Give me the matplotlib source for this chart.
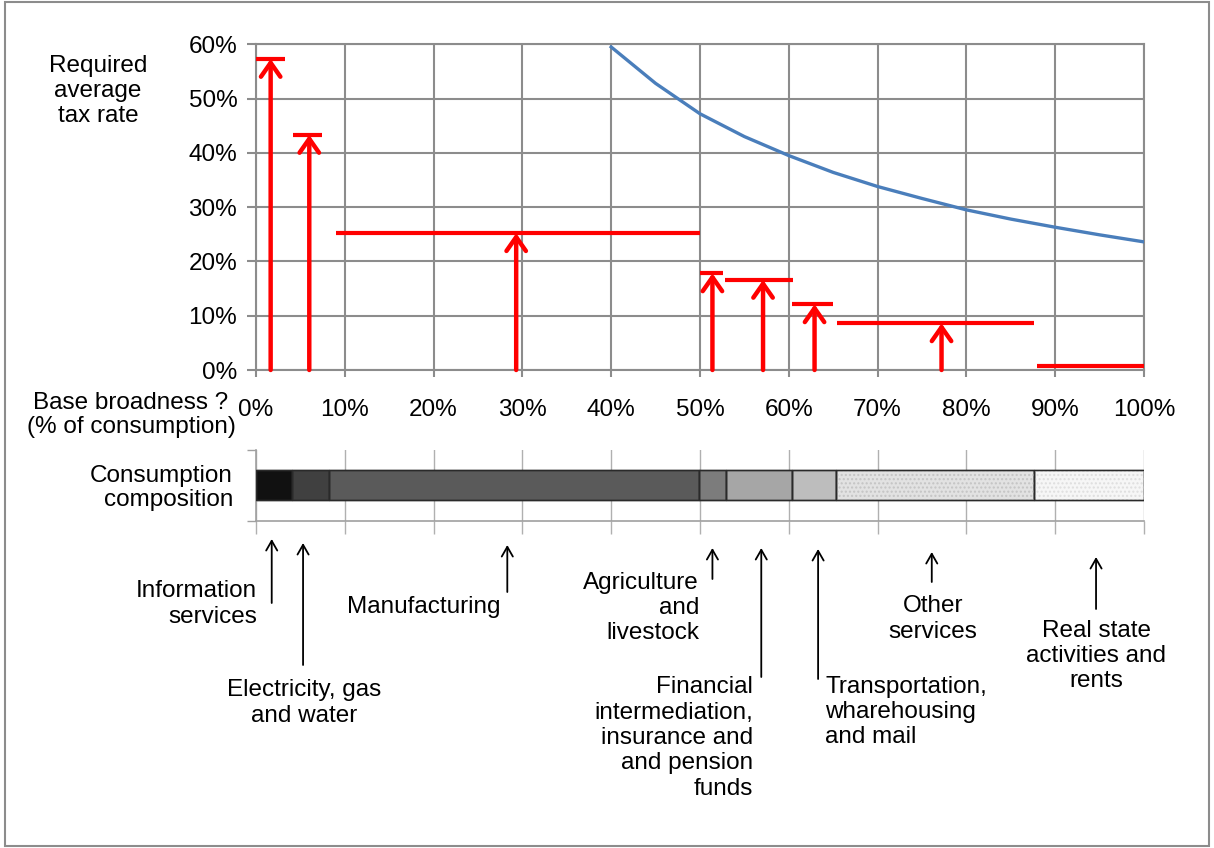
import matplotlib
matplotlib.use('Agg')
import matplotlib.pyplot as plt
import matplotlib.transforms as mtransforms
from matplotlib.patches import Rectangle
from matplotlib.ticker import FuncFormatter

plt.rcParams['font.family'] = ['Liberation Sans', 'DejaVu Sans']
plt.rcParams['font.size'] = 17.5

# sectors, left to right along the consumption base
sectors = ['Information\nservices', 'Electricity, gas\nand water', 'Manufacturing',
           'Agriculture\nand\nlivestock',
           'Financial\nintermediation,\ninsurance and\nand pension\nfunds',
           'Transportation,\nwharehousing\nand mail', 'Other\nservices',
           'Real state\nactivities and\nrents']

# composition of consumption (cumulative %, segment edges)
comp_edges = [0, 4.1, 8.2, 49.9, 52.9, 60.4, 65.3, 87.6, 100]
comp_colors = ['#111111', '#404040', '#5a5a5a', '#7c7c7c', '#a6a6a6', '#bdbdbd', '#e2e2e2', '#f6f6f6']

# required tax rate for each sector (red steps)
step_start = [0.0, 4.2, 9.0, 50.0, 52.8, 60.4, 65.4, 88.0]
step_end = [3.3, 7.4, 50.0, 52.6, 60.5, 65.0, 87.6, 100.0]
step_rate = [57.3, 43.3, 25.2, 17.8, 16.6, 12.1, 8.6, 0.7]
step_arrow_x = [1.65, 6.0, 29.3, 51.4, 57.1, 62.9, 77.2, None]

# required average tax rate vs base broadness (blue curve)
curve_base = [40, 45, 50, 55, 60, 65, 70, 75, 80, 85, 90, 95, 100]
curve_rate = [59.5, 52.8, 47.2, 43.0, 39.5, 36.4, 33.8, 31.6, 29.5, 27.8, 26.3, 24.9, 23.6]

# where the sector labels point on the composition bar
label_x = [1.77, 5.3, 28.3, 51.4, 56.9, 63.3, 76.1, 94.6]

W, H = 1214, 848
fig = plt.figure(figsize=(W / 100, H / 100), dpi=100)

def fx(px):
    return px / W

def fy(py):
    return 1 - py / H

grid_c = '#8c8c8c'
pct = FuncFormatter(lambda v, p: '%d%%' % round(v))
LS = 1.2

# ---- top panel
ax = fig.add_axes([fx(256), fy(370), fx(888), 325.7 / H])
ax.set_xlim(0, 100)
ax.set_ylim(0, 60)
ax.set_xticks(range(0, 101, 10))
ax.set_yticks(range(0, 61, 10))
ax.xaxis.set_major_formatter(pct)
ax.yaxis.set_major_formatter(pct)
ax.grid(True, color=grid_c, lw=1.5)
for s in ax.spines.values():
    s.set_color(grid_c)
    s.set_linewidth(1.5)
ax.tick_params(axis='y', length=6.5, width=1.5, color=grid_c, pad=7)
ax.tick_params(axis='x', length=5, width=1.5, color=grid_c, pad=16)
ax.set_axisbelow(True)

ax.plot(curve_base, curve_rate, color='#4a7ebb', lw=2.4, zorder=3)

for x0, x1, r, xa in zip(step_start, step_end, step_rate, step_arrow_x):
    ax.plot([x0, x1], [r, r], color='#ff0000', lw=3, solid_capstyle='butt', zorder=4)
    if xa is not None:
        ax.annotate('', xy=(xa, r), xytext=(xa, 0),
                    arrowprops=dict(arrowstyle='->,head_length=0.5,head_width=0.35',
                                    color='#ff0000', lw=3.2, shrinkA=0, shrinkB=0,
                                    mutation_scale=20), zorder=4)

# ---- bottom panel: consumption composition
ax2 = fig.add_axes([fx(256), fy(521), fx(888), 71 / H])
ax2.set_xlim(0, 100)
ax2.set_ylim(0, 1)
ax2.set_xticks(range(0, 101, 10))
ax2.set_yticks([0, 1])
ax2.set_xticklabels([])
ax2.set_yticklabels([])
ax2.grid(True, axis='x', color='#b0b0b0', lw=1)
ax2.set_axisbelow(True)
for k in ['top', 'right']:
    ax2.spines[k].set_visible(False)
for k in ['left', 'bottom']:
    ax2.spines[k].set_color('#a0a0a0')
    ax2.spines[k].set_linewidth(1.2)
ax2.tick_params(axis='x', length=9.4, width=1, color='#b0b0b0')
ax2.tick_params(axis='y', length=6.5, width=1, color='#a0a0a0')

lefts = comp_edges[:-1]
widths = [b - a for a, b in zip(comp_edges[:-1], comp_edges[1:])]
ax2.barh(0.507, widths, left=lefts, height=0.427, color=comp_colors,
         edgecolor='#2a2a2a', lw=1, zorder=3)
# dotted texture on the two lightest segments
ax2.barh(0.507, widths[6:], left=lefts[6:], height=0.427, color='none',
         edgecolor=['#c4c4c4', '#dedede'], hatch='....', lw=0, zorder=3)
ax2.barh(0.507, widths, left=lefts, height=0.427, color='none',
         edgecolor='#2a2a2a', lw=1, zorder=3)

# ---- texts
fig.text(fx(98), fy(91), 'Required\naverage\ntax rate', ha='center', va='center',
         linespacing=LS)
fig.text(fx(131), fy(415), 'Base broadness ?\n(% of consumption)', ha='center', va='center',
         linespacing=LS * 0.95)
fig.text(fx(233), fy(488), 'Consumption\ncomposition', ha='right', va='center',
         multialignment='right', linespacing=LS * 0.95)

# sector labels: (text x px, text center y px, align, arrow bottom px, arrow top px)
label_layout = [
    (257, 604, 'right', 603, 539),
    (304, 703, 'center', 665, 543),
    (424, 607, 'center', 592, 545),
    (699, 608, 'right', 579, 548),
    (753, 738, 'right', 677, 548),
    (825, 712, 'left', 679, 549),
    (933, 619, 'center', 582, 552),
    (1096, 656, 'center', 609, 557),
]
tr = mtransforms.blended_transform_factory(ax2.transData, fig.transFigure)
for name, xa, (tx, ty, al, yb, yt) in zip(sectors, label_x, label_layout):
    fig.text(fx(tx), fy(ty), name, ha=al, va='center', multialignment=al, linespacing=LS)
    ax2.annotate('', xy=(xa, fy(yt)), xytext=(xa, fy(yb)), xycoords=tr, textcoords=tr,
                 arrowprops=dict(arrowstyle='->,head_length=0.7,head_width=0.4',
                                 color='black', lw=1.3, shrinkA=0, shrinkB=0,
                                 mutation_scale=10), annotation_clip=False)

fig.patches.append(Rectangle((fx(5), fy(846)), fx(1204), 844 / H, transform=fig.transFigure,
                             fill=False, edgecolor='#8c8c8c', lw=1.5))

fig.savefig('out.png', dpi=100)
